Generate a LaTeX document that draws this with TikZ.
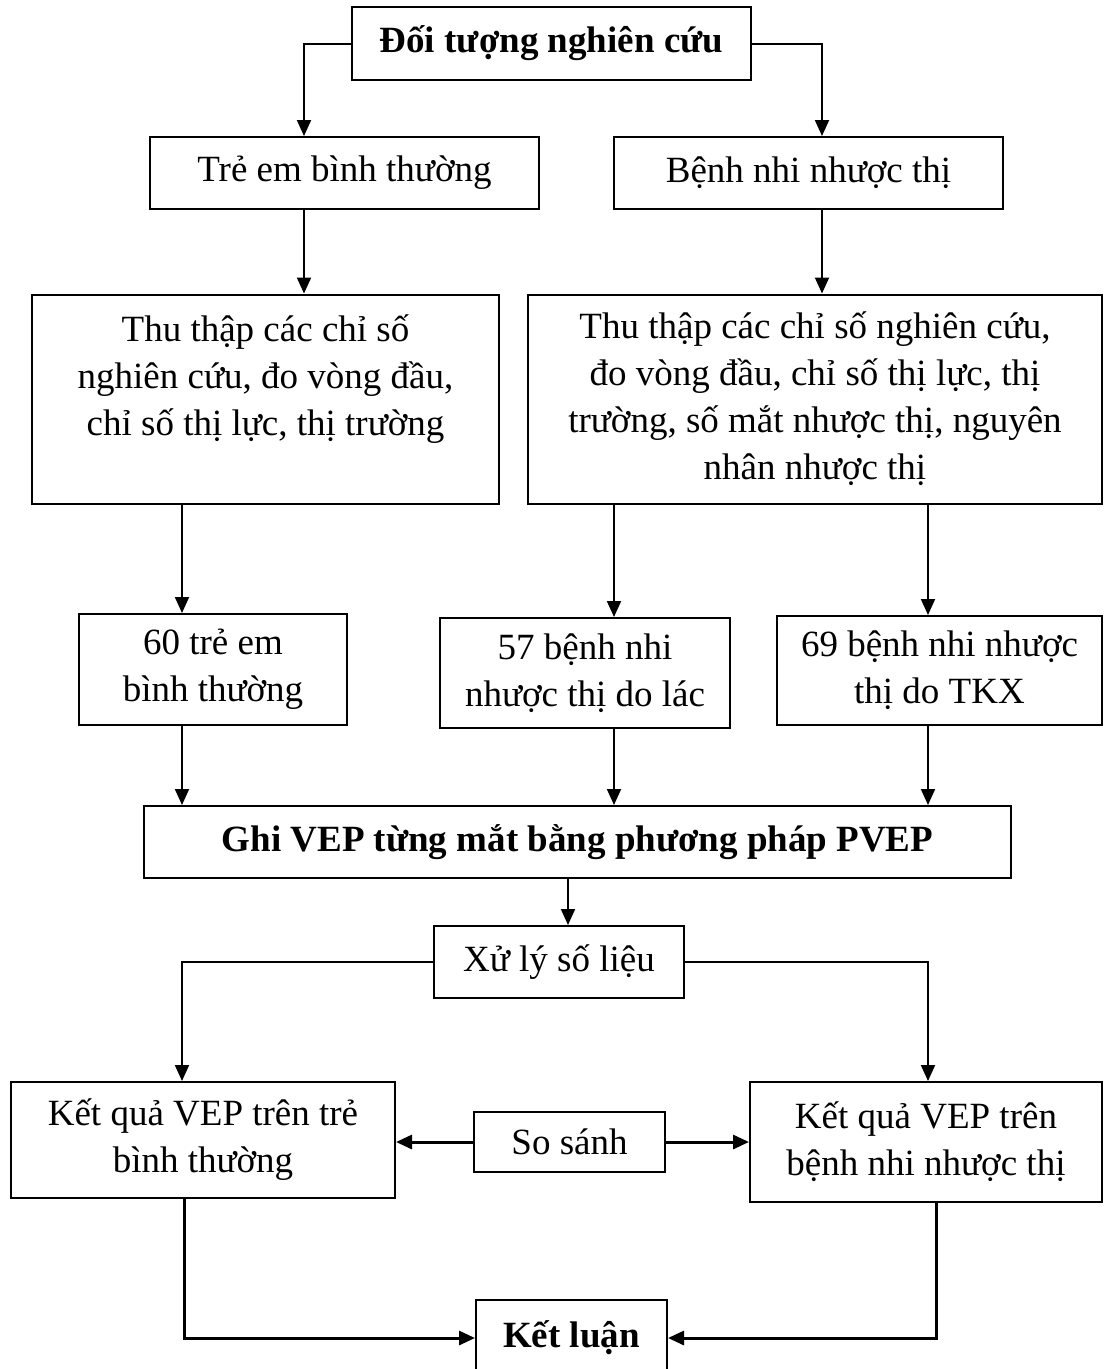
\documentclass[tikz,border=0pt]{standalone}
\usepackage{fontspec}
\setmainfont{Liberation Serif}
\usetikzlibrary{arrows.meta}
\begin{document}
\begin{tikzpicture}[x=1pt,y=-1pt,
  box/.style={draw, line width=2pt, inner sep=0pt, align=center, font=\fontsize{37}{47}\selectfont},
  bbox/.style={box, font=\fontsize{37}{47}\selectfont\bfseries},
  arr/.style={line width=2pt, -{Triangle[length=16pt,width=14pt]}},
  tarr/.style={line width=3pt, -{Triangle[length=16pt,width=14pt]}},
  ln/.style={line width=2pt}]
\useasboundingbox (0,0) rectangle (1107,1369);
% x positions of vertical connectors
\coordinate (xa) at (304,0);
\coordinate (xb) at (822,0);
\coordinate (xc) at (182,0);
\coordinate (xd) at (614,0);
\coordinate (xe) at (928,0);
\coordinate (xf) at (568,0);
\coordinate (xg) at (184,0);
\coordinate (xh) at (936,0);
% nodes
\node[bbox, minimum width=399pt, minimum height=73pt] (top) at (551.5,43.5) {Đối tượng nghiên cứu};
\node[box, minimum width=389pt, minimum height=72pt] (tre) at (344.5,173) {Trẻ em bình thường};
\node[box, minimum width=389pt, minimum height=72pt] (benh) at (808.5,173) {Bệnh nhi nhược thị};
\node[box, minimum width=467pt, minimum height=209pt] (thuL) at (265.5,399)
  {Thu thập các chỉ số\\nghiên cứu, đo vòng đầu,\\chỉ số thị lực, thị trường\\\mbox{}};
\node[box, minimum width=574pt, minimum height=209pt] (thuR) at (815,399)
  {Thu thập các chỉ số nghiên cứu,\\đo vòng đầu, chỉ số thị lực, thị\\trường, số mắt nhược thị, nguyên\\nhân nhược thị};
\node[box, minimum width=268pt, minimum height=111pt] (n60) at (213,669.5) {60 trẻ em\\bình thường};
\node[box, minimum width=290pt, minimum height=110pt] (n57) at (585,673) {57 bệnh nhi\\nhược thị do lác};
\node[box, minimum width=325pt, minimum height=109pt] (n69) at (939.5,670.5) {69 bệnh nhi nhược\\thị do TKX};
\node[bbox, minimum width=867pt, minimum height=72pt] (ghi) at (577.5,842) {Ghi VEP từng mắt bằng phương pháp PVEP};
\node[box, minimum width=250pt, minimum height=72pt] (xu) at (559,962) {Xử lý số liệu};
\node[box, minimum width=384pt, minimum height=116pt] (kqL) at (203,1140) {Kết quả VEP trên trẻ\\bình thường};
\node[box, minimum width=352pt, minimum height=120pt] (kqR) at (926,1142) {Kết quả VEP trên\\bệnh nhi nhược thị};
\node[box, minimum width=191pt, minimum height=60pt] (ss) at (569.5,1142) {So sánh};
\node[bbox, minimum width=191pt, minimum height=76pt] (kl) at (571.5,1338) {Kết luận};
% connectors
\draw[arr] (top.west) -| (tre.north -| xa);
\draw[arr] (top.east) -| (benh.north -| xb);
\draw[arr] (tre.south -| xa) -- (thuL.north -| xa);
\draw[arr] (benh.south -| xb) -- (thuR.north -| xb);
\draw[arr] (thuL.south -| xc) -- (n60.north -| xc);
\draw[arr] (thuR.south -| xd) -- (n57.north -| xd);
\draw[arr] (thuR.south -| xe) -- (n69.north -| xe);
\draw[arr] (n60.south -| xc) -- (ghi.north -| xc);
\draw[arr] (n57.south -| xd) -- (ghi.north -| xd);
\draw[arr] (n69.south -| xe) -- (ghi.north -| xe);
\draw[arr] (ghi.south -| xf) -- (xu.north -| xf);
\draw[arr] (xu.west) -| (kqL.north -| xc);
\draw[arr] (xu.east) -| (kqR.north -| xe);
\draw[tarr] (ss.west) -- (kqL.east |- ss.west);
\draw[tarr] (ss.east) -- (kqR.west |- ss.east);
\draw[tarr] (kqL.south -| xg) |- (kl.west);
\draw[tarr] (kqR.south -| xh) |- (kl.east);
\end{tikzpicture}
\end{document}
